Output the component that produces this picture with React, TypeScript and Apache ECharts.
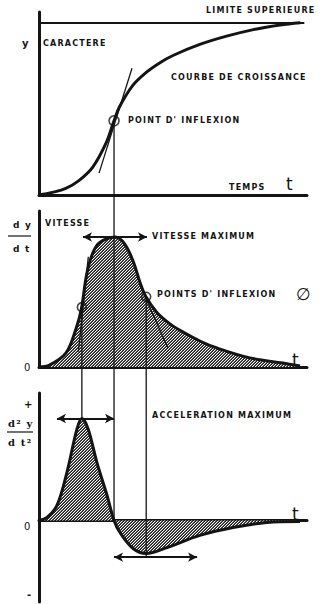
import React, { useEffect, useRef } from "react";
import * as echarts from "echarts";

// ---- data (time t on a 0..10 scale) ----
const growthT = [0, 0.5, 1, 1.5, 2, 2.5, 2.8, 3, 3.5, 4, 4.5, 5, 6, 7, 8, 9, 9.75];
const growthY = [0, 1.5, 3.8, 8.5, 16, 30, 43, 51, 63.5, 71, 76.5, 80.8, 87.2, 92, 95.8, 98.5, 99.8];
const upperLimit = 100;
const growthTangent = [[2.24, 12.7], [3.47, 73.4]];
const growthInflection = [2.8, 43];

const velocityT = [0, 0.39, 1.01, 1.39, 1.58, 1.77, 1.96, 2.2, 2.52, 2.85, 3.2, 3.52, 3.77, 3.99, 4.4, 4.9, 5.37, 6.0, 6.64, 7.87, 9.1, 9.74];
const velocityY = [0, 1.5, 10.9, 30, 44.6, 70.3, 85.2, 94.6, 98.6, 100, 94.6, 81, 65, 54, 42, 33, 27, 20, 14.6, 7, 3, 0.8];
const velocityTangentLeft = [[1.47, 11.8], [1.84, 84.8]];
const velocityTangentRight = [[3.88, 57.7], [4.81, 14.6]];
const velocityInflections = [[1.6, 46], [4.0, 54]];
const velocityMaxArrow = [[1.64, 100], [4.03, 100]];

const accelT = [0, 0.3, 0.67, 1.04, 1.42, 1.6, 1.83, 2.16, 2.54, 2.8, 3.02, 3.51, 4.0, 4.78, 6.0, 7.24, 8.5, 9.74];
const accelY = [0, 3, 14.7, 47, 90, 100, 90, 57, 24.5, 0, -11.8, -27.5, -32.4, -26.5, -14.7, -6.9, -2, -1];
const accelMaxArrow = [[0.67, 100], [2.8, 100]];
const accelMinArrow = [[2.8, -36], [5.9, -36]];
const accelMaxPoint = [1.6, 100];
const accelZeroPoint = [2.8, 0];
const accelMinPoint = [4.0, -36];

const zip = (xs: number[], ys: number[]) => xs.map((x, i) => [x, ys[i]]);

function hatchPattern() {
  const n = 3;
  const c = document.createElement("canvas");
  c.width = n;
  c.height = n;
  const ctx = c.getContext("2d")!;
  ctx.fillStyle = "#ffffff";
  ctx.fillRect(0, 0, n, n);
  for (let i = 0; i < n; i++) {
    ctx.fillStyle = "#1a1a1a";
    ctx.fillRect(i, n - 1 - i, 1, 1);
    ctx.fillStyle = "#5a5a5a";
    ctx.fillRect(i, (2 * n - 2 - i) % n, 1, 1);
  }
  return { image: c.toDataURL(), imageWidth: n, imageHeight: n, repeat: "repeat" };
}

const INK = "#141414";
const FONT = "DejaVu Sans";

export default function App() {
  const ref = useRef<HTMLDivElement>(null);
  useEffect(() => {
    document.body.style.margin = "0";
    const chart = echarts.init(ref.current!, null, { renderer: "svg" });
    const hatch = hatchPattern();
    const axisX = (g: number) => ({
      type: "value", gridIndex: g, min: 0, max: 10,
      axisLine: { show: true, onZero: true, lineStyle: { color: INK, width: 3 } },
      axisTick: { show: false }, axisLabel: { show: false }, splitLine: { show: false },
    });
    const axisY = (g: number, min: number, max: number) => ({
      type: "value", gridIndex: g, min, max,
      axisLine: { show: true, onZero: false, lineStyle: { color: INK, width: 3 } },
      axisTick: { show: false }, axisLabel: { show: false }, splitLine: { show: false },
    });
    const thin = (g: number, data: number[][]) => ({
      type: "line", xAxisIndex: g, yAxisIndex: g, data, showSymbol: false,
      lineStyle: { color: INK, width: 1.3 }, silent: true, z: 4,
    });
    const arrowLine = (pts: number[][]) => [{ coord: pts[0] }, { coord: pts[1] }];
    const arrowMark = (lines: number[][][]) => ({
      silent: true, symbol: ["arrow", "arrow"], symbolSize: [7, 9],
      label: { show: false },
      lineStyle: { color: INK, width: 2, type: "solid" },
      data: lines.map(arrowLine),
    });
    const curve = (g: number, data: number[][], area: boolean, extra: any = {}) => ({
      type: "line", xAxisIndex: g, yAxisIndex: g, data,
      smooth: 0.35, showSymbol: false,
      lineStyle: { color: INK, width: 3 },
      ...(area ? { areaStyle: { color: hatch, opacity: 1 } } : {}),
      z: 3, ...extra,
    });

    chart.setOption({
      animation: false,
      grid: [
        { left: 39, width: 268, top: 12, height: 183 },
        { left: 39, width: 268, top: 211, height: 156 },
        { left: 39, width: 268, top: 393, height: 209 },
      ],
      xAxis: [axisX(0), axisX(1), axisX(2)],
      yAxis: [axisY(0, 0, 106), axisY(1, 0, 120), axisY(2, -80, 125)],
      series: [
        curve(0, zip(growthT, growthY), false, {
          markLine: {
            silent: true, symbol: "none", label: { show: false },
            lineStyle: { color: INK, width: 2.2, type: "solid" },
            data: [[{ coord: [0, upperLimit] }, { coord: [9.9, upperLimit] }]],
          },
        }),
        thin(0, growthTangent),
        {
          type: "scatter", xAxisIndex: 0, yAxisIndex: 0, data: [growthInflection],
          symbol: "circle", symbolSize: 10, z: 6,
          itemStyle: { color: "rgba(255,255,255,0)", borderColor: INK, borderWidth: 1.6 },
        },
        curve(1, zip(velocityT, velocityY), true, { markLine: arrowMark([velocityMaxArrow]) }),
        thin(1, velocityTangentLeft),
        thin(1, velocityTangentRight),
        {
          type: "scatter", xAxisIndex: 1, yAxisIndex: 1, data: velocityInflections,
          symbol: "circle", symbolSize: 9, z: 6,
          itemStyle: { color: "rgba(255,255,255,0)", borderColor: INK, borderWidth: 1.6 },
        },
        curve(2, zip(accelT, accelY), true, { markLine: arrowMark([accelMaxArrow, accelMinArrow]) }),
      ],
    });

    const px = (g: number, p: number[]) => chart.convertToPixel({ gridIndex: g }, p) as number[];
    const connector = (a: number[], b: number[]) => ({
      type: "line", silent: true, z: 50,
      shape: { x1: a[0], y1: a[1], x2: b[0], y2: b[1] },
      style: { stroke: INK, lineWidth: 1.3 },
    });
    const connectors = [
      connector(px(1, velocityInflections[0]), px(2, accelMaxPoint)),
      connector(px(0, growthInflection), px(2, accelZeroPoint)),
      connector(px(1, velocityInflections[1]), px(2, accelMinPoint)),
    ];
    const txt = (text: string, x: number, y: number, size = 8, weight: any = "bold", family = FONT) => ({
      type: "text", silent: true, z: 60, x, y,
      style: { text, fill: INK, font: `${weight} ${size}px ${family}`, textAlign: "left", textVerticalAlign: "middle" },
    });
    const rule = (x1: number, x2: number, y: number) => ({
      type: "line", silent: true, z: 60,
      shape: { x1, y1: y, x2, y2: y }, style: { stroke: INK, lineWidth: 1.2 },
    });
    chart.setOption({
      graphic: [
        ...connectors,
        txt("LIMITE SUPERIEURE", 206, 10),
        txt("y", 22, 43, 10),
        txt("CARACTERE", 43, 43),
        txt("COURBE DE CROISSANCE", 171, 77),
        txt("POINT D' INFLEXION", 128, 120),
        txt("TEMPS", 229, 187),
        txt("t", 286, 184, 17, "normal"),
        txt("d y", 13, 225, 9),
        rule(8, 31, 236),
        txt("d t", 13, 249, 9),
        txt("VITESSE", 45, 223),
        txt("VITESSE MAXIMUM", 152, 236),
        txt("POINTS D' INFLEXION", 157, 294),
        txt("∅", 296, 294, 17, "normal"),
        txt("0", 24, 367, 10, "normal"),
        txt("t", 292, 360, 17, "normal"),
        txt("+", 24, 404, 10),
        txt("d² y", 8, 423, 10, "bold", "DejaVu Serif"),
        rule(7, 33, 432),
        txt("d t²", 8, 442, 10, "bold", "DejaVu Serif"),
        txt("ACCELERATION MAXIMUM", 152, 415),
        txt("0", 24, 526, 10, "normal"),
        txt("t", 292, 514, 17, "normal"),
        txt("-", 27, 594, 10),
      ],
    });
    return () => chart.dispose();
  }, []);
  return (
    <div
      ref={ref}
      style={{ position: "absolute", left: 0, top: 0, width: 322, height: 604, letterSpacing: "1.2px" }}
    />
  );
}
